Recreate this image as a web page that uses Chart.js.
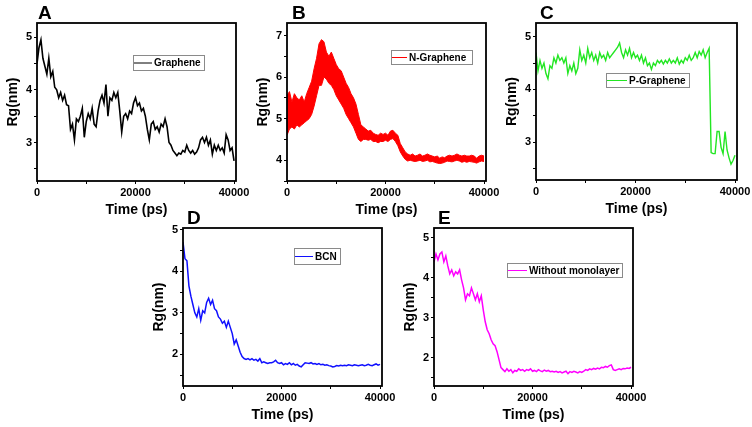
<!DOCTYPE html>
<html>
<head>
<meta charset="utf-8">
<script src="https://cdn.jsdelivr.net/npm/chart.js@4.4.1/dist/chart.umd.min.js"></script>
<style>
html, body { margin: 0; padding: 0; background: #fff; width: 752px; height: 427px; overflow: hidden; }
.panel { position: absolute; }
</style>
</head>
<body>
<div class="panel" id="wrapA"><canvas id="chartA"></canvas></div>
<div class="panel" id="wrapB"><canvas id="chartB"></canvas></div>
<div class="panel" id="wrapC"><canvas id="chartC"></canvas></div>
<div class="panel" id="wrapD"><canvas id="chartD"></canvas></div>
<div class="panel" id="wrapE"><canvas id="chartE"></canvas></div>
<script>
// sampling interval of the read-off traces (ps)
const TIME_STEP = 400;
const BAND_STEP = 500;

const xTicks = [0, 10000, 20000, 30000, 40000];
const xTickLabels = [0, 20000, 40000];

// A - Graphene
const grapheneRg = [
	4.5, 4.8, 4.95, 4.6, 4.45, 4.3, 4.6, 4.25, 4.35, 4.05,
	4.0, 3.85, 3.95, 3.8, 3.9, 3.72, 3.7, 3.25, 3.35, 3.05,
	3.45, 3.4, 3.5, 3.65, 3.1, 3.4, 3.55, 3.45, 3.65, 3.35,
	3.3, 3.6, 3.8, 3.9, 3.75, 4.1, 3.5, 3.85, 3.8, 3.95,
	3.85, 3.95, 3.6, 3.2, 3.5, 3.55, 3.45, 3.6, 3.55, 3.75,
	3.85, 3.7, 3.75, 3.6, 3.65, 3.5, 3.25, 3.05, 3.35, 3.4,
	3.25, 3.3, 3.2, 3.35, 3.3, 3.45, 3.3, 3.0, 2.95, 2.85,
	2.8, 2.75, 2.8, 2.78, 2.85, 2.82, 2.95, 2.85, 2.8, 2.85,
	2.78, 2.82, 2.9, 3.05, 3.1, 3.0, 3.1, 2.95, 3.05, 2.78,
	2.95, 2.85, 2.95, 2.85, 2.9, 2.8, 3.15, 3.05, 2.85, 2.9,
	2.65
];

// B - N-Graphene (upper and lower edge of the noisy band)
const nGrapheneUpper = [
	5.55, 5.65, 5.4, 5.6, 5.5, 5.45, 5.55, 5.4, 5.6, 5.75,
	5.9, 6.2, 6.45, 6.8, 6.9, 6.85, 6.6, 6.5, 6.6, 6.45,
	6.3, 6.2, 6.15, 6.0, 5.85, 5.75, 5.6, 5.5, 5.35, 5.1,
	4.85, 4.8, 4.75, 4.7, 4.72, 4.65, 4.62, 4.6, 4.65, 4.62,
	4.65, 4.6, 4.7, 4.72, 4.65, 4.6, 4.4, 4.3, 4.2, 4.15,
	4.12, 4.15, 4.1, 4.12, 4.15, 4.1, 4.12, 4.15, 4.12, 4.1,
	4.08, 4.1, 4.05, 4.08, 4.06, 4.1, 4.12, 4.1, 4.12, 4.15,
	4.12, 4.1, 4.12, 4.1, 4.1, 4.12, 4.1, 4.05, 4.1, 4.12,
	4.1
];
const nGrapheneLower = [
	4.6, 4.75, 4.8, 4.75, 4.85, 4.8, 4.85, 4.9, 4.95, 5.0,
	5.1, 5.3, 5.55, 5.8, 5.8, 6.0, 5.95, 5.85, 5.8, 5.7,
	5.55, 5.45, 5.35, 5.25, 5.1, 5.0, 4.9, 4.8, 4.65, 4.5,
	4.45, 4.5, 4.5, 4.48, 4.5, 4.45, 4.45, 4.42, 4.45, 4.45,
	4.48, 4.45, 4.5, 4.52, 4.45, 4.35, 4.2, 4.1, 4.02, 3.98,
	4.0, 3.98, 3.97, 3.98, 4.0, 3.97, 3.98, 4.0, 3.96, 3.97,
	3.95, 3.93, 3.92, 3.93, 3.95, 3.98, 3.97, 3.96, 3.98, 4.0,
	3.98, 3.95, 3.97, 3.95, 3.97, 3.96, 3.95, 3.93, 3.96, 3.98,
	3.97
];

// C - P-Graphene
const pGrapheneRg = [
	4.7, 4.35, 4.55, 4.4, 4.5, 4.3, 4.2, 4.45, 4.4, 4.6,
	4.5, 4.65, 4.55, 4.6, 4.5, 4.6, 4.3, 4.45, 4.35, 4.5,
	4.3, 4.4, 4.75, 4.55, 4.65, 4.5, 4.78, 4.6, 4.7, 4.55,
	4.65, 4.5, 4.7, 4.6, 4.65, 4.55, 4.7, 4.6, 4.65, 4.7,
	4.75, 4.8, 4.88, 4.7, 4.6, 4.75, 4.65, 4.78, 4.6, 4.7,
	4.6, 4.65, 4.55, 4.65, 4.5, 4.6, 4.45, 4.5, 4.38, 4.5,
	4.45, 4.55, 4.5, 4.55, 4.48, 4.55, 4.5, 4.58, 4.5, 4.55,
	4.5, 4.6, 4.48, 4.55, 4.5, 4.6, 4.55, 4.65, 4.55, 4.6,
	4.7, 4.6, 4.72, 4.65, 4.75, 4.6, 4.7, 4.78, 2.8, 2.78,
	2.78, 3.2, 3.2, 2.9, 2.78, 3.2, 2.85, 2.7, 2.58, 2.65,
	2.75
];

// D - BCN
const bcnRg = [
	4.7, 4.3, 4.25, 3.65, 3.4, 3.2, 3.0, 2.9, 3.1, 2.82,
	3.05, 3.0, 3.25, 3.35, 3.2, 3.3, 3.1, 3.05, 2.9, 2.85,
	2.75, 2.8, 2.65, 2.8, 2.65, 2.5, 2.25, 2.35, 2.2, 2.05,
	1.95, 1.9, 1.88, 1.9, 1.87, 1.9, 1.86, 1.88, 1.84, 1.9,
	1.8, 1.82, 1.8, 1.78, 1.8, 1.8, 1.82, 1.86, 1.8, 1.78,
	1.8, 1.75, 1.78, 1.76, 1.8, 1.75, 1.78, 1.74, 1.76, 1.72,
	1.7, 1.75, 1.8, 1.79, 1.78, 1.8, 1.77, 1.78, 1.76, 1.78,
	1.75, 1.76, 1.74, 1.75, 1.73, 1.72, 1.7, 1.71, 1.73, 1.72,
	1.74, 1.73, 1.74, 1.73, 1.75, 1.74, 1.73, 1.75, 1.74, 1.73,
	1.74, 1.75, 1.73, 1.74, 1.76, 1.74, 1.73, 1.75, 1.77, 1.74,
	1.76
];

// E - Without monolayer
const noMonolayerRg = [
	4.4, 4.6, 4.45, 4.6, 4.65, 4.4, 4.55, 4.3, 4.1, 4.2,
	4.05, 4.15, 4.1, 4.2, 3.95, 3.75, 3.45, 3.6, 3.55, 3.75,
	3.6, 3.45, 3.6, 3.4, 3.55, 3.2, 2.9, 2.7, 2.6, 2.45,
	2.35, 2.3, 2.15, 1.95, 1.75, 1.7, 1.65, 1.72, 1.66, 1.7,
	1.62, 1.68, 1.66, 1.72, 1.68, 1.7, 1.66, 1.7, 1.68, 1.72,
	1.66, 1.68, 1.65, 1.7, 1.67, 1.65, 1.69, 1.66, 1.68, 1.65,
	1.66, 1.64, 1.66, 1.63, 1.65, 1.62, 1.64, 1.66, 1.6, 1.65,
	1.63, 1.66, 1.64, 1.62, 1.65, 1.63, 1.66, 1.7, 1.68, 1.72,
	1.7, 1.73, 1.71, 1.74, 1.72, 1.76, 1.75, 1.78, 1.76, 1.8,
	1.82, 1.7, 1.68, 1.7, 1.72, 1.7, 1.73, 1.72, 1.74, 1.73,
	1.76
];

const FONT = '"Liberation Sans", Arial, sans-serif';
const PAD_LEFT = 40, PAD_TOP = 25, PAD_RIGHT = 22, PAD_BOTTOM = 42;

function toPoints(values, step)
{
	return values.map((v, i) => ({ x: i * step, y: v }));
}

// frame, panel letter, axis titles and the boxed legend
const decorPlugin = {
	id: "decor",
	afterDraw(chart, args, opts)
	{
		const ctx = chart.ctx;
		const a = chart.chartArea;
		ctx.save();
		ctx.strokeStyle = "#000";
		ctx.lineWidth = 1.8;
		ctx.strokeRect(a.left, a.top, a.right - a.left, a.bottom - a.top);

		ctx.fillStyle = "#000";
		ctx.textAlign = "left";
		ctx.textBaseline = "alphabetic";
		ctx.font = "bold 19px " + FONT;
		ctx.fillText(opts.letter, a.left + opts.letterDx, a.top - 4);

		ctx.font = "bold 14px " + FONT;
		ctx.textAlign = "center";
		ctx.textBaseline = "middle";
		ctx.fillText("Time (ps)", (a.left + a.right) / 2, a.bottom + 29);
		ctx.save();
		ctx.translate(a.left - 24, (a.top + a.bottom) / 2);
		ctx.rotate(-Math.PI / 2);
		ctx.fillText("Rg(nm)", 0, 0);
		ctx.restore();

		const lg = opts.legend;
		const ds = chart.data.datasets[0];
		const bx = a.left + lg.dx, by = a.top + lg.dy;
		ctx.fillStyle = "#fff";
		ctx.fillRect(bx, by, lg.w, lg.h);
		ctx.strokeStyle = "#8a8a8a";
		ctx.lineWidth = 1;
		ctx.strokeRect(bx + 0.5, by + 0.5, lg.w, lg.h);
		ctx.strokeStyle = ds.borderColor;
		ctx.lineWidth = 1;
		ctx.beginPath();
		ctx.moveTo(bx + 1, by + lg.h / 2 + 0.5);
		ctx.lineTo(bx + 1 + lg.line, by + lg.h / 2 + 0.5);
		ctx.stroke();
		ctx.fillStyle = "#000";
		ctx.textAlign = "left";
		ctx.font = "bold 10px " + FONT;
		ctx.fillText(ds.label, bx + lg.line + 3, by + lg.h / 2 + 1);
		ctx.restore();
	}
};

function makePanel(p)
{
	const wrap = document.getElementById(p.wrap);
	const canvas = document.getElementById(p.canvas);
	const w = p.right - p.left + PAD_LEFT + PAD_RIGHT;
	const h = p.bottom - p.top + PAD_TOP + PAD_BOTTOM;
	wrap.style.left = (p.left - PAD_LEFT) + "px";
	wrap.style.top = (p.top - PAD_TOP) + "px";
	canvas.width = w;
	canvas.height = h;
	canvas.style.width = w + "px";
	canvas.style.height = h + "px";

	const tickFont = { family: FONT, size: 11, weight: "bold" };
	new Chart(canvas.getContext("2d"),
	{
		type: "line",
		data: { datasets: p.datasets },
		options:
		{
			responsive: false,
			animation: false,
			devicePixelRatio: 1,
			layout: { padding: { left: 0, top: PAD_TOP, right: PAD_RIGHT, bottom: 0 } },
			elements: { point: { radius: 0 }, line: { tension: 0 } },
			plugins:
			{
				legend: { display: false },
				tooltip: { enabled: false },
				decor: { letter: p.letter, letterDx: p.letterDx, legend: p.legend }
			},
			scales:
			{
				x:
				{
					type: "linear",
					min: 0,
					max: 40400,
					afterFit: s => { s.height = PAD_BOTTOM; },
					afterBuildTicks: s => { s.ticks = xTicks.map(v => ({ value: v })); },
					border: { display: false },
					grid: { drawOnChartArea: false, drawTicks: true, tickLength: 3, color: "#000", lineWidth: 1 },
					ticks:
					{
						color: "#000",
						font: tickFont,
						padding: 2,
						maxRotation: 0,
						autoSkip: false,
						callback: v => xTickLabels.includes(v) ? String(v) : ""
					}
				},
				y:
				{
					min: p.yMin,
					max: p.yMax,
					afterFit: s => { s.width = PAD_LEFT; },
					afterBuildTicks: s => { s.ticks = p.yTicks.map(v => ({ value: v })); },
					border: { display: false },
					grid: { drawOnChartArea: false, drawTicks: true, tickLength: 3, color: "#000", lineWidth: 1 },
					ticks:
					{
						color: "#000",
						font: tickFont,
						padding: 2,
						autoSkip: false,
						callback: v => p.yLabels.includes(v) ? String(v) : ""
					}
				}
			}
		},
		plugins: [decorPlugin]
	});
}

function lineSet(label, color, values, width)
{
	return {
		label: label,
		data: toPoints(values, TIME_STEP),
		borderColor: color,
		borderWidth: width,
		fill: false
	};
}

makePanel({
	wrap: "wrapA", canvas: "chartA", letter: "A", letterDx: 1,
	left: 37, top: 23, right: 236, bottom: 181,
	yMin: 2.27, yMax: 5.27, yTicks: [2.5, 3, 3.5, 4, 4.5, 5], yLabels: [3, 4, 5],
	legend: { dx: 96, dy: 32, w: 71, h: 15, line: 18 },
	datasets: [lineSet("Graphene", "#000000", grapheneRg, 1.6)]
});

makePanel({
	wrap: "wrapB", canvas: "chartB", letter: "B", letterDx: 5,
	left: 287, top: 23, right: 486, bottom: 181,
	yMin: 3.5, yMax: 7.3, yTicks: [3.5, 4, 4.5, 5, 5.5, 6, 6.5, 7], yLabels: [4, 5, 6, 7],
	legend: { dx: 104, dy: 27, w: 81, h: 14, line: 15 },
	datasets: [
		{ label: "N-Graphene", data: toPoints(nGrapheneUpper, BAND_STEP), borderColor: "#ff0000", borderWidth: 1, backgroundColor: "#ff0000", fill: "+1" },
		{ label: "N-Graphene lower", data: toPoints(nGrapheneLower, BAND_STEP), borderColor: "#ff0000", borderWidth: 1, fill: false }
	]
});

makePanel({
	wrap: "wrapC", canvas: "chartC", letter: "C", letterDx: 4,
	left: 536, top: 23, right: 737, bottom: 180,
	yMin: 2.28, yMax: 5.26, yTicks: [2.5, 3, 3.5, 4, 4.5, 5], yLabels: [3, 4, 5],
	legend: { dx: 70, dy: 50, w: 83, h: 14, line: 20 },
	datasets: [lineSet("P-Graphene", "#22e622", pGrapheneRg, 1.4)]
});

makePanel({
	wrap: "wrapD", canvas: "chartD", letter: "D", letterDx: 4,
	left: 183, top: 228, right: 382, bottom: 386,
	yMin: 1.24, yMax: 5.04, yTicks: [1.5, 2, 2.5, 3, 3.5, 4, 4.5, 5], yLabels: [2, 3, 4, 5],
	legend: { dx: 111, dy: 20, w: 46, h: 16, line: 18 },
	datasets: [lineSet("BCN", "#1010ff", bcnRg, 1.5)]
});

makePanel({
	wrap: "wrapE", canvas: "chartE", letter: "E", letterDx: 4,
	left: 434, top: 228, right: 633, bottom: 386,
	yMin: 1.29, yMax: 5.25, yTicks: [1.5, 2, 2.5, 3, 3.5, 4, 4.5, 5], yLabels: [2, 3, 4, 5],
	legend: { dx: 73, dy: 35, w: 115, h: 14, line: 19 },
	datasets: [lineSet("Without monolayer", "#ff00ff", noMonolayerRg, 1.5)]
});
</script>
</body>
</html>
